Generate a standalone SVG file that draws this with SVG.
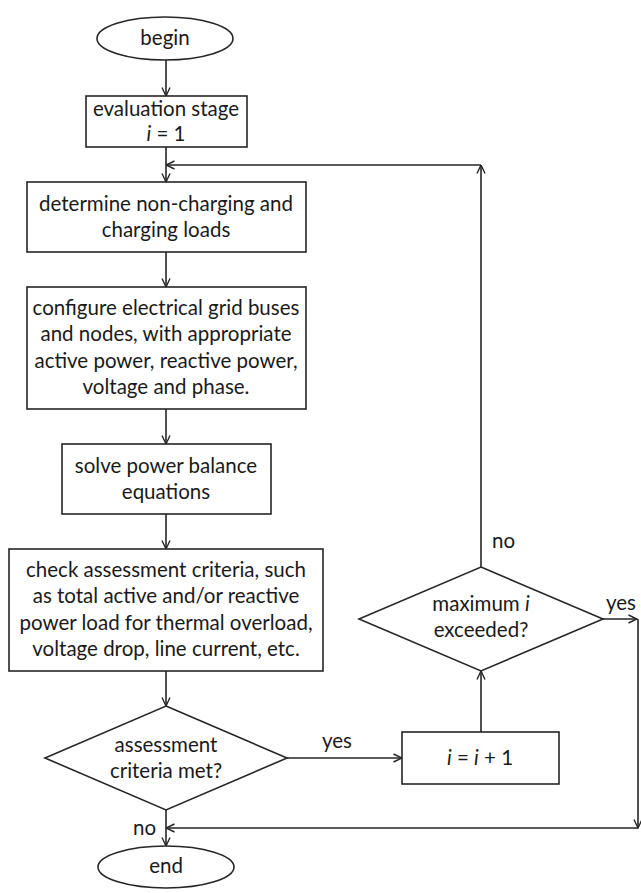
<svg xmlns="http://www.w3.org/2000/svg" width="641" height="893" viewBox="0 0 641 893">
  <style>
    .shape { fill: #ffffff; stroke: #262626; stroke-width: 1.6; }
    .conn { fill: none; stroke: #262626; stroke-width: 1.6; }
    text { font-family: Lato, "Open Sans", "Liberation Sans", sans-serif; font-size: 20.5px; fill: #1a1a1a; text-anchor: middle; }
    .lbl { text-anchor: start; }
  </style>
  <defs>
    <marker id="arrow" viewBox="0 0 10 10" refX="9.5" refY="5" markerWidth="10" markerHeight="10" markerUnits="userSpaceOnUse" orient="auto">
      <path d="M1,1 L9.5,5 L1,9" fill="none" stroke="#262626" stroke-width="1.4"/>
    </marker>
  </defs>
  <rect width="641" height="893" fill="#ffffff"/>

  <g id="connectors">
    <line class="conn" x1="166" y1="60" x2="166" y2="96" marker-end="url(#arrow)"/>
    <line class="conn" x1="166" y1="147" x2="166" y2="182" marker-end="url(#arrow)"/>
    <line class="conn" x1="166" y1="252" x2="166" y2="287" marker-end="url(#arrow)"/>
    <line class="conn" x1="166" y1="409" x2="166" y2="444" marker-end="url(#arrow)"/>
    <line class="conn" x1="166" y1="514" x2="166" y2="549" marker-end="url(#arrow)"/>
    <line class="conn" x1="166" y1="671" x2="166" y2="706" marker-end="url(#arrow)"/>
    <line class="conn" x1="166" y1="810" x2="166" y2="846" marker-end="url(#arrow)"/>
    <!-- yes branch to increment -->
    <line class="conn" x1="287" y1="758" x2="402" y2="758" marker-end="url(#arrow)"/>
    <!-- increment up to limit check -->
    <line class="conn" x1="481" y1="732" x2="481" y2="671" marker-end="url(#arrow)"/>
    <!-- no branch: loop back to top -->
    <line class="conn" x1="481" y1="567" x2="481" y2="165" marker-end="url(#arrow)"/>
    <line class="conn" x1="481" y1="165" x2="166" y2="165" marker-end="url(#arrow)"/>
    <!-- yes branch: exit to end -->
    <line class="conn" x1="603" y1="619" x2="637" y2="619" marker-end="url(#arrow)"/>
    <line class="conn" x1="638" y1="619" x2="638" y2="828" marker-end="url(#arrow)"/>
    <line class="conn" x1="638" y1="828" x2="166" y2="828" marker-end="url(#arrow)"/>
  </g>

  <g id="begin">
    <ellipse class="shape" cx="165" cy="38.5" rx="68" ry="21.5"/>
    <text x="165" y="45">begin</text>
  </g>

  <g id="eval-stage">
    <rect class="shape" x="86" y="96" width="161" height="51"/>
    <text x="166" y="116">evaluation stage</text>
    <text x="166" y="141"><tspan font-style="italic">i</tspan> = 1</text>
  </g>

  <g id="determine-loads">
    <rect class="shape" x="27" y="182" width="279" height="70"/>
    <text x="166" y="211">determine non-charging and</text>
    <text x="166" y="237">charging loads</text>
  </g>

  <g id="configure-grid">
    <rect class="shape" x="27" y="287" width="279" height="122"/>
    <text x="166" y="315">configure electrical grid buses</text>
    <text x="166" y="341">and nodes, with appropriate</text>
    <text x="166" y="368">active power, reactive power,</text>
    <text x="166" y="394">voltage and phase.</text>
  </g>

  <g id="solve-balance">
    <rect class="shape" x="62" y="444" width="209" height="70"/>
    <text x="166" y="473">solve power balance</text>
    <text x="166" y="499">equations</text>
  </g>

  <g id="check-criteria">
    <rect class="shape" x="9" y="549" width="314" height="122"/>
    <text x="166" y="577">check assessment criteria, such</text>
    <text x="166" y="603">as total active and/or reactive</text>
    <text x="166" y="630">power load for thermal overload,</text>
    <text x="166" y="656">voltage drop, line current, etc.</text>
  </g>

  <g id="criteria-met">
    <polygon class="shape" points="166,706 287,758 166,810 45,758"/>
    <text x="166" y="752">assessment</text>
    <text x="166" y="778">criteria met?</text>
    <text class="lbl" x="322" y="748">yes</text>
    <text class="lbl" x="133" y="835">no</text>
  </g>

  <g id="increment">
    <rect class="shape" x="402" y="732" width="157" height="52"/>
    <text x="480" y="765"><tspan font-style="italic">i</tspan> = <tspan font-style="italic">i</tspan> + 1</text>
  </g>

  <g id="max-exceeded">
    <polygon class="shape" points="481,567 603,619 481,671 359,619"/>
    <text x="481" y="611">maximum <tspan font-style="italic">i</tspan></text>
    <text x="481" y="637">exceeded?</text>
    <text class="lbl" x="492" y="548">no</text>
    <text class="lbl" x="606" y="610">yes</text>
  </g>

  <g id="end">
    <ellipse class="shape" cx="166" cy="867" rx="68" ry="21"/>
    <text x="166" y="873">end</text>
  </g>
</svg>
